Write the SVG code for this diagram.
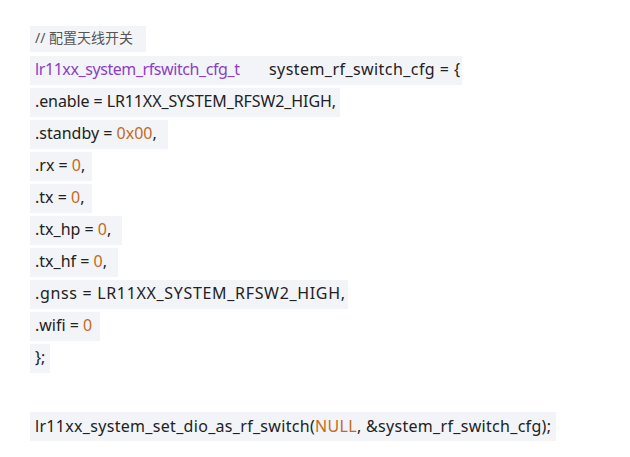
<svg xmlns="http://www.w3.org/2000/svg" width="630" height="457" viewBox="0 0 630 457">
<style>
text{font-family:"Noto Sans","Liberation Sans",sans-serif;font-size:16px;fill:#222}
.c{fill:#555;font-size:14px;font-family:"Noto Sans","Noto Sans CJK SC",sans-serif}
.p{fill:#8c3fc4}.o{fill:#c46a1e}
rect{fill:#f2f4f8}
</style>
<rect width="630" height="457" fill="#fff" style="fill:#fff"/>
<rect x="30" y="26" width="116" height="26"/>
<rect x="30" y="56" width="432" height="29"/>
<rect x="30" y="88" width="310" height="29"/>
<rect x="30" y="120" width="138" height="29"/>
<rect x="30" y="152" width="62" height="29"/>
<rect x="30" y="184" width="62" height="29"/>
<rect x="30" y="216" width="92" height="29"/>
<rect x="30" y="248" width="88" height="29"/>
<rect x="30" y="280" width="318" height="29"/>
<rect x="30" y="312" width="70" height="29"/>
<rect x="30" y="344" width="20" height="29"/>
<rect x="30" y="412" width="526" height="29"/>
<text class="c" x="35" y="43">// 配置天线开关</text>
<text x="35" y="75"><tspan class="p" textLength="205">lr11xx_system_rfswitch_cfg_t</tspan><tspan x="269" textLength="191">system_rf_switch_cfg = {</tspan></text>
<text x="35" y="107" textLength="301">.enable = LR11XX_SYSTEM_RFSW2_HIGH,</text>
<text x="35" y="139">.standby = <tspan class="o">0x00</tspan>,</text>
<text x="35" y="171">.rx = <tspan class="o">0</tspan>,</text>
<text x="35" y="203">.tx = <tspan class="o">0</tspan>,</text>
<text x="35" y="235">.tx_hp = <tspan class="o">0</tspan>,</text>
<text x="35" y="267">.tx_hf = <tspan class="o">0</tspan>,</text>
<text x="35" y="299" textLength="310">.gnss = LR11XX_SYSTEM_RFSW2_HIGH,</text>
<text x="35" y="331">.wifi = <tspan class="o">0</tspan></text>
<text x="35" y="363">};</text>
<text x="35" y="432" textLength="516">lr11xx_system_set_dio_as_rf_switch(<tspan class="o">NULL</tspan>, &amp;system_rf_switch_cfg);</text>
</svg>
